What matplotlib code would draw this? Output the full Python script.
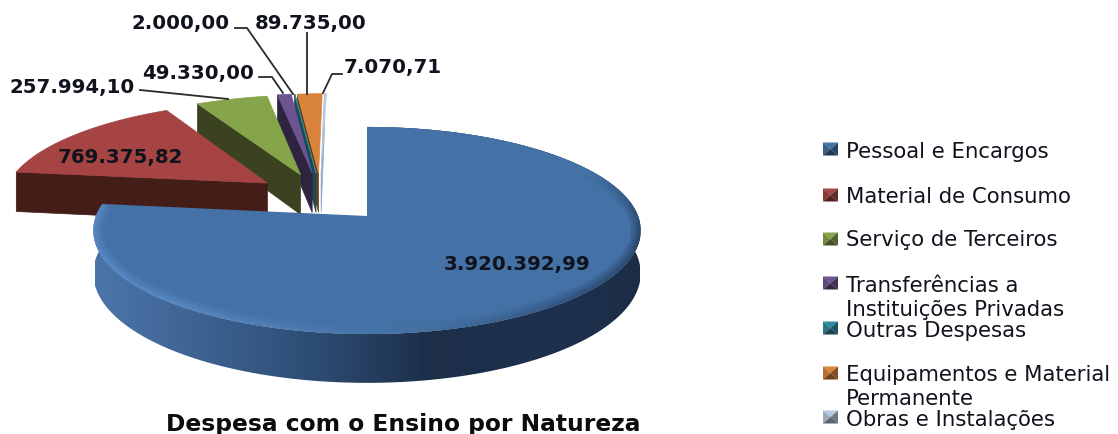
import numpy as np
import matplotlib
matplotlib.use("Agg")
import matplotlib.pyplot as plt
from matplotlib.collections import LineCollection
from matplotlib.colors import to_rgb, LinearSegmentedColormap
from matplotlib.patches import Polygon

# ---- data -----------------------------------------------------------------
categories = ["Pessoal e Encargos", "Material de Consumo", "Serviço de Terceiros",
              "Transferências a\nInstituições Privadas", "Outras Despesas",
              "Equipamentos e Material\nPermanente", "Obras e Instalações"]
values = [3920392.99, 769375.82, 257994.10, 49330.00, 2000.00, 89735.00, 7070.71]
title = "Despesa com o Ensino por Natureza"

# ---- style / layout -------------------------------------------------------
top_colors = ["#4471a6", "#a54442", "#86a44a", "#6d5391", "#2f8aa0", "#d9843c", "#b7c9e2"]
side_colors = ["#2f4d75", "#441c18", "#3a421f", "#2e2440", "#1a4a55", "#6b3e14", "#8ea4c4"]
legend_y = [150, 196, 240, 284, 329, 374, 418]
legend_text_y = [152, 197, 240, 298, 331, 387, 420]
explode_u = [0, -0.385, -0.26, -0.215, -0.20, -0.19, -0.18]
explode_v = [0, 0.34, 0.43, 0.45, 0.45, 0.45, 0.45]
label_pos = [(517, 265, None), (120, 158, None), (72, 87, [(140, 91), (228, 100)]),
             (198, 74, [(259, 78), (272, 78), (283, 94)]),
             (181, 24, [(235, 29), (247, 29), (293, 95)]),
             (311, 24, [(307, 34), (307, 95)]),
             (393, 68, [(342, 75), (332, 75), (323, 94)])]
INK = "#10131c"
CX, CY, A, B, K, THICK = 367, 217, 101.5, 271, 0.14, 42


def project(u, v, z=0.0):
    """Perspective projection of the unit pie disc to the picture."""
    w = 1 + K * np.asarray(v)
    return CX + B * np.asarray(u) / w, CY - A * np.asarray(v) / w + z * THICK / w


def brl(x):
    return f"{x:,.2f}".replace(",", "X").replace(".", ",").replace("X", ".")


fig = plt.figure(figsize=(11.18, 4.35), dpi=100)
ax = fig.add_axes([0, 0, 1, 1])
ax.axis("off")

total = sum(values)
edges = np.concatenate([[0], np.cumsum(values)]) / total * 2 * np.pi


def arc(i, z=0.0, n=240):
    th = np.linspace(edges[i], edges[i + 1], n)
    return project(explode_u[i] + np.sin(th), explode_v[i] + np.cos(th), z)


# exploded small slices, from back to front
for i in [6, 5, 4, 3, 2, 1]:
    u0, v0 = explode_u[i], explode_v[i]
    a0 = edges[i]
    p = [project(u0, v0), project(u0 + np.sin(a0), v0 + np.cos(a0)),
         project(u0 + np.sin(a0), v0 + np.cos(a0), 1), project(u0, v0, 1)]
    ax.add_patch(Polygon([(float(x), float(y)) for x, y in p], closed=True,
                         fc=side_colors[i], ec=side_colors[i], lw=0.5))
    xa, ya = arc(i)
    ax.fill(np.r_[project(u0, v0)[0], xa], np.r_[project(u0, v0)[1], ya],
            fc=top_colors[i], ec=top_colors[i], lw=0.5)

# main slice: shaded wall
xt, yt = arc(0, 0, 500)
xb, yb = arc(0, 1, 500)
wall = Polygon(np.c_[np.r_[xt, xb[::-1]], np.r_[yt, yb[::-1]]], closed=True,
               fc="none", ec="none")
ax.add_patch(wall)
cmap = LinearSegmentedColormap.from_list(
    "wall", [(0, "#4b75a9"), (0.2, "#3d6291"), (0.42, "#2c4a70"), (0.62, "#1c2e48"),
             (0.85, "#1e324f"), (1, "#1b2c45")])
img = ax.imshow(np.linspace(0, 1, 300)[None, :], cmap=cmap, aspect="auto",
                extent=(95, 640, 400, 120), zorder=2)
img.set_clip_path(wall)

# main slice: top with bevelled rim
x0, y0 = project(0, 0)
top = ax.fill(np.r_[x0, xt], np.r_[y0, yt], fc=top_colors[0], ec="none", zorder=3)[0]
seg = np.stack([np.c_[xt[:-1], yt[:-1]], np.c_[xt[1:], yt[1:]]], axis=1)
deg = np.degrees(np.linspace(edges[0], edges[1], 499))
rim_stops = [0, 60, 100, 135, 170, 215, 277]
rim = [to_rgb(c) for c in ["#4471a6", "#4471a6", "#25405f", "#2e4d76", "#44719f", "#5b8cc8", "#5b8cc8"]]
rim_rgb = np.stack([np.interp(deg, rim_stops, [c[k] for c in rim]) for k in range(3)], axis=1)
for lw, alpha in [(14, 0.22), (10, 0.3), (6, 0.4), (3, 0.55)]:
    lc = LineCollection(seg, colors=np.c_[rim_rgb, np.full(len(deg), alpha)], linewidths=lw, zorder=4)
    ax.add_collection(lc)
    lc.set_clip_path(top)

# data labels and leader lines
for val, (tx, ty, leader) in zip(values, label_pos):
    if leader is not None:
        ax.plot(*zip(*leader), color="#2a2a2a", lw=1.3, zorder=5)
    ax.text(tx, ty, brl(val), ha="center", va="center", fontsize=14.2,
            fontweight="bold", color=INK, zorder=6)

# legend
for name, cy, ty, c in zip(categories, legend_y, legend_text_y, top_colors):
    l, r, t, b = 823, 838, cy - 6.5, cy + 6.5
    mid = ((l + r) / 2, cy)
    base = np.array(to_rgb(c))
    for pts, f in [([(l, t), (r, t), mid], 1.0), ([(l, t), (l, b), mid], 0.85),
                   ([(r, t), (r, b), mid], 0.6), ([(l, b), (r, b), mid], 0.5)]:
        ax.add_patch(Polygon(pts, closed=True, fc=base * f, ec="none", zorder=5))
    ax.text(846, ty, name, ha="left", va="center", fontsize=15.3, color=INK,
            linespacing=1.2, zorder=6)

ax.text(403, 425, title, ha="center", va="center", fontsize=16.8, fontweight="bold", color="#0c0c0c")

ax.set_xlim(0, 1118)
ax.set_ylim(435, 0)
fig.savefig("out.png", dpi=100, facecolor="white")
